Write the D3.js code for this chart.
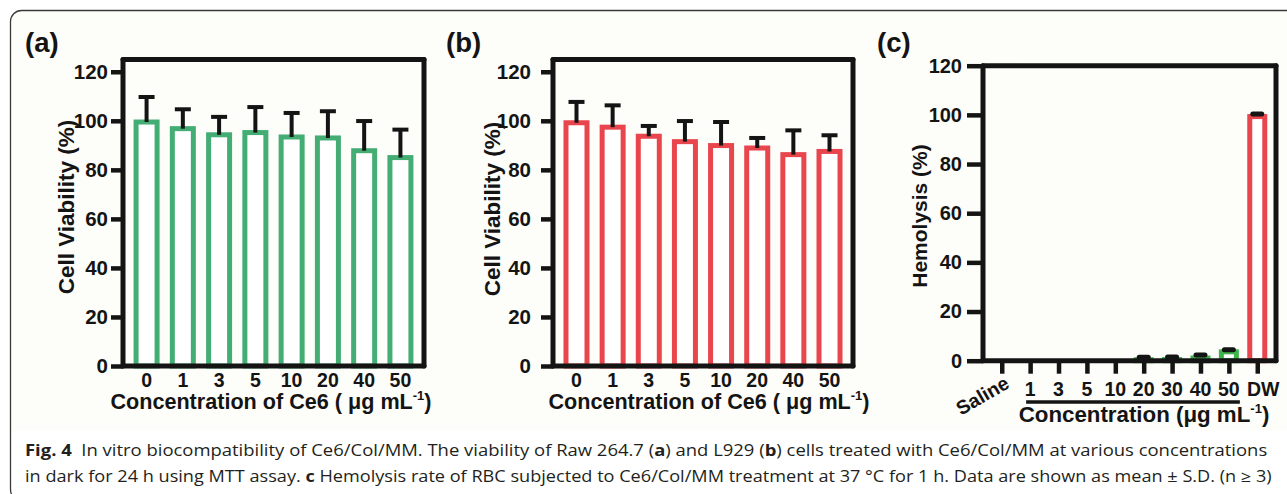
<!DOCTYPE html>
<html>
<head>
<meta charset="utf-8">
<script src="https://cdn.jsdelivr.net/npm/d3@7"></script>
<style>
  html, body { margin: 0; padding: 0; background: #ffffff; }
  svg { display: block; }
</style>
</head>
<body>
<div id="chart"></div>
<script>
// ---------------- DATA ----------------
const categoriesAB = ["0", "1", "3", "5", "10", "20", "40", "50"];
const viabilityRaw = [99.5, 96.8, 94.3, 95.2, 93.4, 93.0, 87.8, 85.0];
const viabilityRawSD = [10.2, 7.9, 7.3, 10.4, 9.8, 10.9, 12.1, 11.4];
const viabilityL929 = [99.2, 97.4, 93.7, 91.5, 89.9, 88.9, 86.2, 87.5];
const viabilityL929SD = [8.5, 8.9, 4.2, 8.4, 9.6, 4.1, 9.9, 6.6];
const categoriesC = ["Saline", "1", "3", "5", "10", "20", "30", "40", "50", "DW"];
const hemolysis = [0, 0, 0, 0, 0, 0.4, 0.5, 1.1, 3.6, 99.3];
const hemolysisSD = [0, 0, 0, 0, 0, 1.0, 1.0, 1.2, 0.9, 1.1];
const yTickValues = [0, 20, 40, 60, 80, 100, 120];
const panelLabels = ["(a)", "(b)", "(c)"];

// ---------------- SETUP ----------------
const W = 1287, H = 494;
const FONT = "'Liberation Sans', Arial, Helvetica, sans-serif";
const GREEN_A = "#43ad74";
const RED = "#e8454d";
const GREEN_C = "#3fb44a";
const BLACK = "#141414";

const svg = d3.select("#chart").append("svg")
  .attr("width", W).attr("height", H)
  .attr("viewBox", `0 0 ${W} ${H}`);

svg.append("rect").attr("x", 0).attr("y", 0).attr("width", W).attr("height", H).attr("fill", "#ffffff");
svg.append("rect").attr("x", 11).attr("y", 11).attr("width", W).attr("height", 420).attr("fill", "#fdfdf9");

// outer rounded frame
svg.append("rect")
  .attr("x", 10.5).attr("y", 10.5).attr("width", W + 20).attr("height", 490)
  .attr("rx", 11).attr("ry", 11)
  .attr("fill", "none").attr("stroke", "#3a3a3a").attr("stroke-width", 1.3);

function drawPanel(cfg) {
  const g = svg.append("g");
  const x = d3.scalePoint().domain(cfg.categories).range([cfg.x0, cfg.x1]).padding(cfg.pad);
  const y = d3.scaleLinear().domain([0, cfg.ymax]).range([cfg.yBot, cfg.yTop]);

  // bars
  g.selectAll("rect.bar").data(cfg.values).enter().append("rect")
    .attr("class", "bar")
    .attr("x", (d, i) => x(cfg.categories[i]) - cfg.barW / 2)
    .attr("y", d => y(d))
    .attr("width", cfg.barW)
    .attr("height", d => y(0) - y(d))
    .attr("fill", "#ffffff")
    .attr("stroke", (d, i) => cfg.colorOf(i))
    .attr("stroke-width", cfg.barStroke);

  // error bars (upper only)
  cfg.values.forEach((v, i) => {
    const e = cfg.errors[i];
    if (e <= 0) return;
    const cx = x(cfg.categories[i]);
    if (cfg.blobCaps) {
      g.append("line")
        .attr("x1", cx - cfg.capW / 2).attr("x2", cx + cfg.capW / 2)
        .attr("y1", y(v + e)).attr("y2", y(v + e))
        .attr("stroke", BLACK).attr("stroke-width", 5).attr("stroke-linecap", "round");
    } else {
      g.append("line")
        .attr("x1", cx).attr("x2", cx)
        .attr("y1", y(v)).attr("y2", y(v + e))
        .attr("stroke", BLACK).attr("stroke-width", 4);
      g.append("line")
        .attr("x1", cx - cfg.capW / 2).attr("x2", cx + cfg.capW / 2)
        .attr("y1", y(v + e)).attr("y2", y(v + e))
        .attr("stroke", BLACK).attr("stroke-width", 4);
    }
  });

  // y axis via d3.axisLeft
  const yAxis = d3.axisLeft(y).tickValues(yTickValues).tickSize(cfg.tickLen).tickPadding(cfg.tickPad).tickFormat(d3.format("d"));
  const ya = g.append("g").attr("transform", `translate(${cfg.x0},0)`).call(yAxis);
  ya.select(".domain").remove();
  ya.selectAll(".tick line").attr("stroke", BLACK).attr("stroke-width", 4.5);
  ya.selectAll(".tick text")
    .attr("font-family", FONT).attr("font-weight", "bold").attr("font-size", cfg.yTickFS)
    .attr("fill", BLACK);

  // x ticks (only panel c)
  if (cfg.xTicks) {
    const xAxis = d3.axisBottom(x).tickSize(13).tickFormat("");
    const xa = g.append("g").attr("transform", `translate(0,${cfg.yBot})`).call(xAxis);
    xa.select(".domain").remove();
    xa.selectAll(".tick line").attr("stroke", BLACK).attr("stroke-width", 4.5);
  }

  // frame: axes + top + right
  const frame = [
    [[cfg.x0, cfg.yTop], [cfg.x0, cfg.yBot]],
    [[cfg.x0, cfg.yBot], [cfg.x1, cfg.yBot]],
    [[cfg.x0, cfg.yTop], [cfg.x1, cfg.yTop]],
    [[cfg.x1, cfg.yTop], [cfg.x1, cfg.yBot]]
  ];
  frame.forEach(s => {
    g.append("line")
      .attr("x1", s[0][0]).attr("y1", s[0][1]).attr("x2", s[1][0]).attr("y2", s[1][1])
      .attr("stroke", BLACK).attr("stroke-width", 5).attr("stroke-linecap", "round");
  });

  // x tick labels
  cfg.categories.forEach((c, i) => {
    if (cfg.rotateFirst && i === 0) {
      g.append("text")
        .attr("transform", `translate(${x(c) + cfg.rotOffset[0]},${cfg.rotOffset[1]}) rotate(-30)`)
        .attr("text-anchor", "end")
        .attr("font-family", FONT).attr("font-weight", "bold").attr("font-size", cfg.xTickFS)
        .attr("fill", BLACK).text(c);
      return;
    }
    const dx = (i === cfg.categories.length - 1 && cfg.lastLabelDx) ? cfg.lastLabelDx : 0;
    g.append("text")
      .attr("x", x(c) + dx).attr("y", cfg.xLabelY)
      .attr("text-anchor", "middle")
      .attr("font-family", FONT).attr("font-weight", "bold").attr("font-size", cfg.xTickFS)
      .attr("fill", BLACK).text(c);
  });

  // underline for concentrations (panel c)
  if (cfg.underline) {
    const first = x(cfg.categories[1]) - 4, last = x(cfg.categories[cfg.categories.length - 2]) + 11;
    g.append("line").attr("x1", first).attr("x2", last)
      .attr("y1", cfg.underline).attr("y2", cfg.underline)
      .attr("stroke", BLACK).attr("stroke-width", 3.5);
  }

  // x title
  const xt = g.append("text")
    .attr("x", cfg.xTitleX).attr("y", cfg.xTitleY)
    .attr("text-anchor", "middle")
    .attr("font-family", FONT).attr("font-weight", "bold").attr("font-size", cfg.xTitleFS)
    .attr("fill", BLACK);
  xt.append("tspan").text(cfg.xTitle);
  xt.append("tspan").attr("font-size", 13).attr("dy", -9).text("-1");
  xt.append("tspan").attr("dy", 9).text(")");

  // y title
  g.append("text")
    .attr("transform", `translate(${cfg.yTitleX},${cfg.yTitleY}) rotate(-90)`)
    .attr("text-anchor", "middle").attr("dy", "0.35em")
    .attr("font-family", FONT).attr("font-weight", "bold").attr("font-size", cfg.yTitleFS)
    .attr("fill", BLACK).text(cfg.yTitle);

  // panel label
  g.append("text")
    .attr("x", cfg.labelX).attr("y", 52)
    .attr("font-family", FONT).attr("font-weight", "bold").attr("font-size", 27.5)
    .attr("fill", BLACK).text(cfg.label);
}

drawPanel({
  categories: categoriesAB, values: viabilityRaw, errors: viabilityRawSD,
  x0: 123, x1: 424, yTop: 59.5, yBot: 366, ymax: 125, pad: 0.65,
  barW: 21, barStroke: 5, capW: 16, colorOf: () => GREEN_A,
  tickLen: 12, tickPad: 3, yTickFS: 20.5, xLabelY: 387, xTickFS: 19.5,
  xTitle: "Concentration of Ce6 ( μg mL", xTitleX: 271, xTitleY: 409, xTitleFS: 21.6,
  yTitle: "Cell Viability (%)", yTitleX: 66, yTitleY: 207, yTitleFS: 22.5,
  label: panelLabels[0], labelX: 25
});

drawPanel({
  categories: categoriesAB, values: viabilityL929, errors: viabilityL929SD,
  x0: 553, x1: 853, yTop: 59.5, yBot: 366, ymax: 125, pad: 0.65,
  barW: 21, barStroke: 5, capW: 16, colorOf: () => RED,
  tickLen: 12, tickPad: 10, yTickFS: 20.5, xLabelY: 387, xTickFS: 19.5,
  xTitle: "Concentration of Ce6 ( μg mL", xTitleX: 709, xTitleY: 409, xTitleFS: 21.6,
  yTitle: "Cell Viability (%)", yTitleX: 492, yTitleY: 209, yTitleFS: 22.5,
  label: panelLabels[1], labelX: 446
});

drawPanel({
  categories: categoriesC, values: hemolysis, errors: hemolysisSD,
  x0: 983, x1: 1276, yTop: 65.7, yBot: 360.7, ymax: 120, pad: 0.66,
  barW: 15, barStroke: 5, capW: 9, blobCaps: true,
  colorOf: i => (i === categoriesC.length - 1 ? RED : GREEN_C),
  tickLen: 16, tickPad: 5, yTickFS: 20, xLabelY: 396, xTickFS: 19.5, xTicks: true, lastLabelDx: 6,
  rotateFirst: true, rotOffset: [9, 387], underline: 402,
  xTitle: "Concentration (μg mL", xTitleX: 1144, xTitleY: 422, xTitleFS: 22.3,
  yTitle: "Hemolysis (%)", yTitleX: 920, yTitleY: 216, yTitleFS: 21,
  label: panelLabels[2], labelX: 877
});

// ---------------- CAPTION ----------------
const CAP_FONT = "'Open Sans', 'Noto Sans', sans-serif";
const captionLines = [
  { x: 25, y: 456, width: 1243, parts: [
    ["Fig. 4", true], ["  In vitro biocompatibility of Ce6/Col/MM. The viability of Raw 264.7 (", false], ["a", true],
    [") and L929 (", false], ["b", true], [") cells treated with Ce6/Col/MM at various concentrations", false]
  ]},
  { x: 25, y: 482, width: 1247, parts: [
    ["in dark for 24 h using MTT assay. ", false], ["c", true],
    [" Hemolysis rate of RBC subjected to Ce6/Col/MM treatment at 37 °C for 1 h. Data are shown as mean ± S.D. (n ≥ 3)", false]
  ]}
];
captionLines.forEach(line => {
  const g = svg.append("g");
  const t = g.append("text").attr("x", 0).attr("y", 0)
    .attr("font-family", CAP_FONT).attr("font-size", 15.5).attr("fill", "#231f20")
    .attr("xml:space", "preserve").style("white-space", "pre");
  line.parts.forEach(p => {
    t.append("tspan").attr("font-weight", p[1] ? "bold" : "normal").text(p[0]);
  });
  const w = t.node().getComputedTextLength();
  g.attr("transform", `translate(${line.x},${line.y}) scale(${line.width / w},1)`);
});
</script>
</body>
</html>
